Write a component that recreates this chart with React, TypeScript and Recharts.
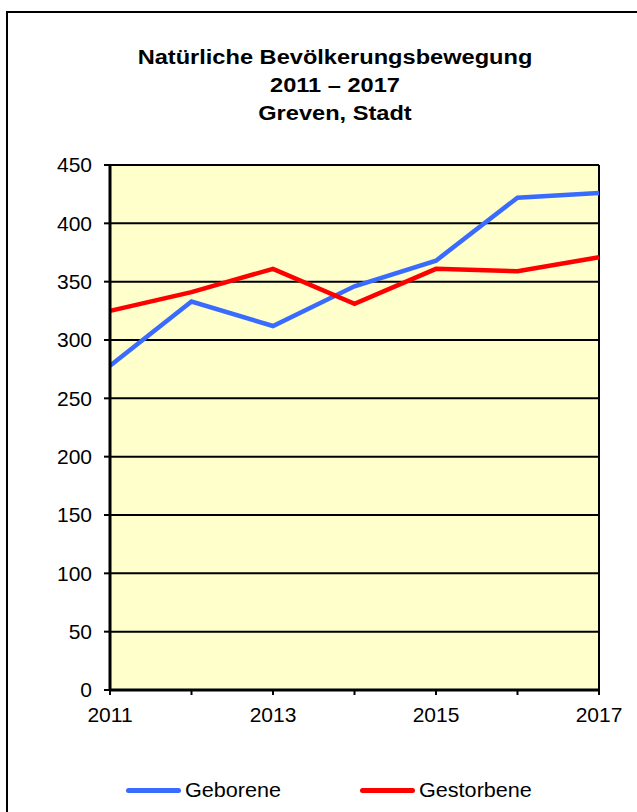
import React from "react";
import { LineChart, Line, XAxis, YAxis, CartesianGrid, Legend } from "recharts";

const years = ["2011", "2012", "2013", "2014", "2015", "2016", "2017"];
const geborene = [278, 333, 312, 346, 368, 422, 426];
const gestorbene = [325, 341, 361, 331, 361, 359, 371];
const yTicks = [0, 50, 100, 150, 200, 250, 300, 350, 400, 450];
const titleLines = ["Natürliche Bevölkerungsbewegung", "2011 – 2017", "Greven, Stadt"];

const BLUE = "#3A6BFF";
const RED = "#FF0000";
const FONT = "'Liberation Sans', Arial, sans-serif";

const data = years.map((year, i) => ({
  year,
  Geborene: geborene[i],
  Gestorbene: gestorbene[i],
}));

function ChartLegend() {
  const item = (color: string, label: string, left: number) => (
    <div style={{ position: "absolute", left, top: 0, height: 24, display: "flex", alignItems: "center" }}>
      <div style={{ width: 55, height: 5, borderRadius: 3, background: color }} />
      <span style={{ marginLeft: 4, fontSize: 20, color: "#000", fontFamily: FONT, transform: "scaleX(1.08)", transformOrigin: "left center", display: "inline-block" }}>
        {label}
      </span>
    </div>
  );
  return (
    <div style={{ position: "relative", width: 637, height: 24 }}>
      {item(BLUE, "Geborene", 126)}
      {item(RED, "Gestorbene", 360)}
    </div>
  );
}

export default function App() {
  return (
    <div style={{ position: "absolute", left: 0, top: 0, width: 637, height: 812, background: "#fff", fontFamily: FONT }}>
      <div
        style={{
          position: "absolute",
          left: 6,
          top: 11,
          width: 629,
          height: 799,
          borderTop: "2px solid #000",
          borderLeft: "2px solid #000",
        }}
      />
      <div
        style={{
          position: "absolute",
          left: 0,
          top: 43,
          width: 670,
          textAlign: "center",
          fontWeight: "bold",
          fontSize: 20,
          lineHeight: "28px",
          color: "#000",
          transform: "scaleX(1.18)",
          transformOrigin: "335px 0",
        }}
      >
        {titleLines.map((t) => (
          <div key={t}>{t}</div>
        ))}
      </div>
      <div style={{ position: "absolute", left: 0, top: 0 }}>
        <LineChart width={637} height={812} data={data} margin={{ top: 165, right: 38, left: 50, bottom: 68 }}>
          <CartesianGrid
            fill="#FFFFCC"
            stroke="#000"
            strokeWidth={2}
            strokeOpacity={1}
            verticalPoints={[599]}
          />
          <XAxis
            dataKey="year"
            interval={0}
            height={30}
            tickSize={5}
            tickMargin={12}
            tickFormatter={(v: string, i: number) => (i % 2 === 0 ? v : "")}
            axisLine={{ stroke: "#000", strokeWidth: 3 }}
            tickLine={{ stroke: "#000", strokeWidth: 2 }}
            tick={{ fill: "#000", fontSize: 21, fontFamily: FONT }}
          />
          <YAxis
            width={60}
            domain={[0, 450]}
            ticks={yTicks}
            interval={0}
            tickSize={6}
            tickMargin={12}
            axisLine={{ stroke: "#000", strokeWidth: 3 }}
            tickLine={{ stroke: "#000", strokeWidth: 2 }}
            tick={{ fill: "#000", fontSize: 21, fontFamily: FONT }}
          />
          <Legend
            verticalAlign="bottom"
            content={() => <ChartLegend />}
            wrapperStyle={{ left: 0, top: 778, bottom: "auto", width: 637 }}
          />
          <Line type="linear" dataKey="Geborene" stroke={BLUE} strokeWidth={4.5} dot={false} isAnimationActive={false} />
          <Line type="linear" dataKey="Gestorbene" stroke={RED} strokeWidth={4.5} dot={false} isAnimationActive={false} />
        </LineChart>
      </div>
    </div>
  );
}
